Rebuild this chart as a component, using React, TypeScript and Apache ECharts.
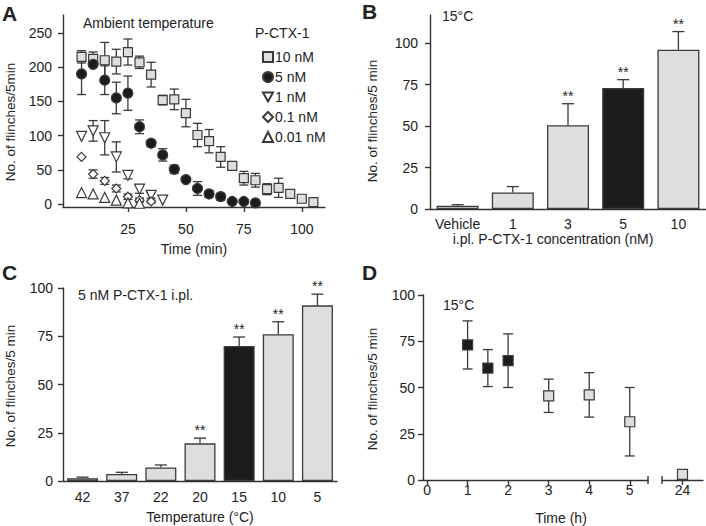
import React, { useEffect, useRef } from "react";
import * as echarts from "echarts";

const FONT = '"Liberation Sans", Arial, Helvetica, sans-serif';
const GRAY = "#dedede";
const EDGE = "#3a3a3a";
const BLACK = "#1c1c1c";
const INK = "#222222";
const AXIS = "#333333";

// ---------- Panel A: ambient temperature time course ----------
const TIME_A = [5, 10, 15, 20, 25, 30, 35, 40, 45, 50, 55, 60, 65, 70, 75, 80, 85, 90, 95, 100, 105];
const A_10NM = [215, 212, 210, 208, 222, 207, 189, 152, 153, 133, 101, 92, 69, 56, 38, 35, 22, 24, 15, 8, 3];
const A_10NM_SEM = [9, 10, 26, 18, 19, 9, 18, 7, 15, 20, 17, 17, 15, 6, 10, 10, 8, 14, 5, 2, 1];
const A_5NM = [190, 204, 181, 155, 162, 113, 89, 72, 51, 36, 23, 15, 11, 4, 4, 2];
const A_5NM_SEM = [30, 3, 21, 23, 25, 10, 5, 9, 6, 3, 10, 5, 5, 1, 1, 1];
const A_1NM = [99, 107, 97, 69, 42, 22, 13, 6];
const A_1NM_SEM = [0, 15, 25, 22, 5, 6, 4, 0];
const A_01NM = [69, 44, 34, 23, 11, 6, 4];
const A_01NM_SEM = [0, 6, 5, 5, 4, 3, 2];
const A_001NM = [17, 15, 10, 6, 2, 1.5];
const A_001NM_SEM = [0, 0, 0, 0, 0, 0];
const LEGEND_A = ["10 nM", "5 nM", "1 nM", "0.1 nM", "0.01 nM"];
const A_Y_TICKS = [0, 50, 100, 150, 200, 250];
const A_X_TICKS = [25, 50, 75, 100];

// ---------- Panel B: concentration at 15 °C ----------
const CONC_B = ["Vehicle", "1", "3", "5", "10"];
const B_MEAN = [2, 10, 50.5, 73, 96];
const B_SEM = [0.6, 3.5, 13, 5, 11];
const B_STAR = [0, 0, 1, 1, 1];
const B_BLACK = [false, false, false, true, false];
const BCD_Y_TICKS = [0, 25, 50, 75, 100];

// ---------- Panel C: temperature ----------
const TEMP_C = ["42", "37", "22", "20", "15", "10", "5"];
const C_MEAN = [1.4, 3.6, 7, 19.5, 70, 76, 91];
const C_SEM = [0.6, 0.9, 1.3, 2.7, 4.6, 6.5, 5.8];
const C_STAR = [0, 0, 0, 1, 1, 1, 1];
const C_BLACK = [false, false, false, false, true, false, false];

// ---------- Panel D: time course at 15 °C ----------
const TIME_D = [1, 1.5, 2, 3, 4, 5];
const D_MEAN = [73, 60.5, 64.5, 45.5, 46, 31.5];
const D_SEM = [13, 10, 14.5, 9, 12, 18.5];
const D_BLACK = [true, true, true, false, false, false];
const TIME_D_LATE = [24];
const D_LATE_MEAN = [3];
const D_LATE_SEM = [0];
const D_X_TICKS = [0, 1, 2, 3, 4, 5];

const labelStyle = { fontFamily: FONT, fontSize: 14, color: INK };
const lineStyle = { color: AXIS, width: 1.4 };

function errSeries(name: string, xi: number, data: number[][], cap: number, both: boolean, z = 1) {
  return {
    type: "custom",
    name,
    xAxisIndex: xi,
    yAxisIndex: xi,
    z,
    silent: true,
    encode: { x: 0, y: 1 },
    data,
    renderItem: (params: any, api: any) => {
      const x = api.value(0);
      const m = api.value(1);
      const e = api.value(2);
      const s = api.value(3);
      const c = api.coord([x, m]);
      const t = api.coord([x, m + e]);
      const b = both ? api.coord([x, m - e]) : c;
      const st = { stroke: EDGE, lineWidth: 1.3, fill: null };
      const children: any[] = [];
      if (e > 0) {
        children.push({ type: "line", shape: { x1: t[0], y1: t[1], x2: b[0], y2: b[1] }, style: st });
        children.push({ type: "line", shape: { x1: t[0] - cap, y1: t[1], x2: t[0] + cap, y2: t[1] }, style: st });
        if (both) children.push({ type: "line", shape: { x1: b[0] - cap, y1: b[1], x2: b[0] + cap, y2: b[1] }, style: st });
      }
      if (s) {
        children.push({
          type: "text",
          x: t[0],
          y: t[1] - 1,
          style: { text: "**", fontFamily: FONT, fontSize: 14, fill: INK, textAlign: "center", textVerticalAlign: "bottom" },
        });
      }
      return { type: "group", children };
    },
  };
}

function scatterA(name: string, vals: number[], symbol: string, size: number, fill: string) {
  return {
    type: "scatter",
    name,
    xAxisIndex: 0,
    yAxisIndex: 0,
    z: 3,
    symbol,
    symbolSize: size,
    itemStyle: { color: fill, borderColor: EDGE, borderWidth: 1.2, opacity: 1 },
    data: vals.map((v, i) => [TIME_A[i], v]),
  };
}

function errData(xs: number[], m: number[], e: number[], s?: number[]) {
  return m.map((v, i) => [xs[i], v, e[i], s ? s[i] : 0]);
}

function gtext(text: string, x: number, y: number, opts: any = {}) {
  return {
    type: "text",
    x,
    y,
    rotation: opts.rotation || 0,
    style: {
      text,
      fontFamily: FONT,
      fontSize: opts.size || 14,
      fontWeight: opts.weight || "normal",
      fill: INK,
      textAlign: opts.align || "left",
      textVerticalAlign: "middle",
    },
  };
}

const TRI_DOWN = "path://M0,0L10,0L5,9Z";

export default function App() {
  const ref = useRef<HTMLDivElement>(null);
  useEffect(() => {
    if (!ref.current) return;
    const chart = echarts.init(ref.current, null, { renderer: "svg" });
    const idxB = CONC_B.map((_, i) => i);
    const idxC = TEMP_C.map((_, i) => i);
    const option: any = {
      animation: false,
      backgroundColor: "#ffffff",
      textStyle: { fontFamily: FONT },
      grid: [
        { left: 63, top: 15, width: 262, height: 192 },
        { left: 430, top: 15, width: 284, height: 194 },
        { left: 63, top: 288, width: 274, height: 193 },
        { left: 423, top: 295, width: 225, height: 185 },
        { left: 662, top: 295, width: 41, height: 185 },
      ],
      xAxis: [
        {
          gridIndex: 0, type: "value", min: -3, max: 110,
          axisLine: { show: true, onZero: false, lineStyle },
          axisTick: { show: true, length: 5, lineStyle, customValues: A_X_TICKS },
          axisLabel: { ...labelStyle, margin: 15, customValues: A_X_TICKS },
          splitLine: { show: false },
        },
        {
          gridIndex: 1, type: "category", data: CONC_B,
          axisLine: { show: true, onZero: false, lineStyle },
          axisTick: { show: false },
          axisLabel: { ...labelStyle, margin: 8, interval: 0 },
        },
        {
          gridIndex: 2, type: "category", data: TEMP_C,
          axisLine: { show: true, onZero: false, lineStyle },
          axisTick: { show: false },
          axisLabel: { ...labelStyle, margin: 9, interval: 0 },
        },
        {
          gridIndex: 3, type: "value", min: -0.1, max: 5.45,
          axisLine: { show: true, onZero: false, lineStyle },
          axisTick: { show: true, length: 5, lineStyle, customValues: D_X_TICKS },
          axisLabel: { ...labelStyle, margin: 3, customValues: D_X_TICKS },
          splitLine: { show: false },
        },
        {
          gridIndex: 4, type: "value", min: 23.5, max: 24.5,
          axisLine: { show: true, onZero: false, lineStyle },
          axisTick: { show: true, length: 5, lineStyle, customValues: TIME_D_LATE },
          axisLabel: { ...labelStyle, margin: 3, customValues: TIME_D_LATE },
          splitLine: { show: false },
        },
      ],
      yAxis: [
        {
          gridIndex: 0, type: "value", min: -4, max: 276,
          axisLine: { show: true, onZero: false, lineStyle },
          axisTick: { show: true, length: 5, lineStyle, customValues: A_Y_TICKS },
          axisLabel: { ...labelStyle, margin: 11, customValues: A_Y_TICKS },
          splitLine: { show: false },
        },
        {
          gridIndex: 1, type: "value", min: 0, max: 117,
          axisLine: { show: true, onZero: false, lineStyle },
          axisTick: { show: true, length: 5, lineStyle, customValues: BCD_Y_TICKS },
          axisLabel: { ...labelStyle, margin: 12, customValues: BCD_Y_TICKS },
          splitLine: { show: false },
        },
        {
          gridIndex: 2, type: "value", min: 0, max: 100,
          axisLine: { show: true, onZero: false, lineStyle },
          axisTick: { show: true, length: 5, lineStyle, customValues: BCD_Y_TICKS },
          axisLabel: { ...labelStyle, margin: 10, customValues: BCD_Y_TICKS },
          splitLine: { show: false },
        },
        {
          gridIndex: 3, type: "value", min: 0, max: 100,
          axisLine: { show: true, onZero: false, lineStyle },
          axisTick: { show: true, length: 5, lineStyle, customValues: BCD_Y_TICKS },
          axisLabel: { ...labelStyle, margin: 8, customValues: BCD_Y_TICKS },
          splitLine: { show: false },
        },
        {
          gridIndex: 4, type: "value", min: 0, max: 100, show: false,
          splitLine: { show: false },
        },
      ],
      legend: {
        data: LEGEND_A,
        orient: "vertical",
        left: 257,
        top: 45,
        itemWidth: 10,
        itemHeight: 10,
        itemGap: 6,
        selectedMode: false,
        textStyle: { fontFamily: FONT, fontSize: 14, color: INK, padding: [0, 0, 0, -3] },
      },
      graphic: [
        gtext("A", 2, 13, { size: 21, weight: "bold" }),
        gtext("B", 362, 11, { size: 21, weight: "bold" }),
        gtext("C", 2, 272, { size: 21, weight: "bold" }),
        gtext("D", 362, 272, { size: 21, weight: "bold" }),
        gtext("Ambient temperature", 83, 23),
        gtext("P-CTX-1", 255, 33),
        gtext("15°C", 442, 16),
        gtext("5 nM P-CTX-1 i.pl.", 78, 295),
        gtext("15°C", 443, 305),
        gtext("Time (min)", 194, 249, { align: "center" }),
        gtext("i.pl. P-CTX-1 concentration (nM)", 553, 239, { align: "center" }),
        gtext("Temperature (°C)", 200, 517, { align: "center" }),
        gtext("Time (h)", 561, 518, { align: "center" }),
        gtext("No. of flinches/5min", 10, 122, { align: "center", rotation: Math.PI / 2, size: 13.5 }),
        gtext("No. of flinches/5 min", 372, 121, { align: "center", rotation: Math.PI / 2, size: 13.5 }),
        gtext("No. of flinches/5 min", 10, 386, { align: "center", rotation: Math.PI / 2, size: 13.5 }),
        gtext("No. of flinches/5 min", 372, 389, { align: "center", rotation: Math.PI / 2, size: 13.5 }),
        { type: "line", shape: { x1: 648, y1: 476, x2: 648, y2: 484 }, style: { stroke: AXIS, lineWidth: 1.4 } },
        { type: "line", shape: { x1: 662, y1: 476, x2: 662, y2: 484 }, style: { stroke: AXIS, lineWidth: 1.4 } },
      ],
      series: [
        // Panel A
        errSeries("10 nM sem", 0, errData(TIME_A, A_10NM, A_10NM_SEM), 4.5, true),
        errSeries("5 nM sem", 0, errData(TIME_A, A_5NM, A_5NM_SEM), 4.5, true),
        errSeries("1 nM sem", 0, errData(TIME_A, A_1NM, A_1NM_SEM), 4.5, true),
        errSeries("0.1 nM sem", 0, errData(TIME_A, A_01NM, A_01NM_SEM), 4.5, true),
        errSeries("0.01 nM sem", 0, errData(TIME_A, A_001NM, A_001NM_SEM), 4.5, true),
        scatterA("10 nM", A_10NM, "rect", 9, GRAY),
        scatterA("5 nM", A_5NM, "circle", 10, BLACK),
        scatterA("1 nM", A_1NM, TRI_DOWN, 10, "#ffffff"),
        scatterA("0.1 nM", A_01NM, "diamond", 9, "#ffffff"),
        scatterA("0.01 nM", A_001NM, "triangle", 10, "#ffffff"),
        // Panel B
        {
          type: "bar", name: "B", xAxisIndex: 1, yAxisIndex: 1, barWidth: 42, z: 2,
          data: B_MEAN.map((v, i) => ({ value: v, itemStyle: { color: B_BLACK[i] ? BLACK : GRAY, borderColor: EDGE, borderWidth: 1.3 } })),
        },
        errSeries("B sem", 1, errData(idxB, B_MEAN, B_SEM, B_STAR), 6, false, 3),
        // Panel C
        {
          type: "bar", name: "C", xAxisIndex: 2, yAxisIndex: 2, barWidth: 31, z: 2,
          data: C_MEAN.map((v, i) => ({ value: v, itemStyle: { color: C_BLACK[i] ? BLACK : GRAY, borderColor: EDGE, borderWidth: 1.3 } })),
        },
        errSeries("C sem", 2, errData(idxC, C_MEAN, C_SEM, C_STAR), 6, false, 3),
        // Panel D
        errSeries("D sem", 3, errData(TIME_D, D_MEAN, D_SEM), 5, true),
        {
          type: "scatter", name: "D", xAxisIndex: 3, yAxisIndex: 3, z: 3, symbol: "rect", symbolSize: 10,
          data: D_MEAN.map((v, i) => ({ value: [TIME_D[i], v], itemStyle: { color: D_BLACK[i] ? BLACK : GRAY, borderColor: EDGE, borderWidth: 1.2, opacity: 1 } })),
        },
        {
          type: "scatter", name: "D late", xAxisIndex: 4, yAxisIndex: 4, z: 3, symbol: "rect", symbolSize: 10,
          itemStyle: { color: GRAY, borderColor: EDGE, borderWidth: 1.2, opacity: 1 },
          data: D_LATE_MEAN.map((v, i) => [TIME_D_LATE[i], v]),
        },
        errSeries("D late sem", 4, errData(TIME_D_LATE, D_LATE_MEAN, D_LATE_SEM), 5, true),
      ],
    };
    chart.setOption(option);
    return () => chart.dispose();
  }, []);
  return <div ref={ref} style={{ position: "absolute", left: 0, top: 0, width: 706, height: 526 }} />;
}
